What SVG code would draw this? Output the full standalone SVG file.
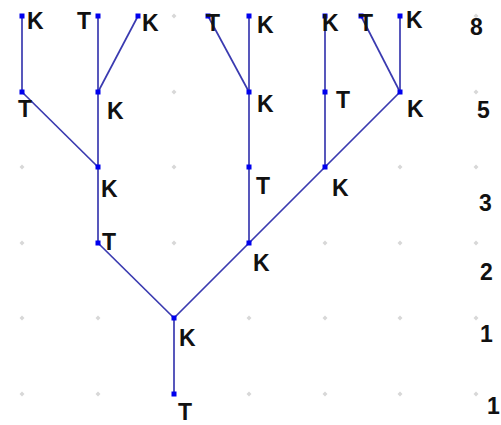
<svg xmlns="http://www.w3.org/2000/svg" width="501" height="425" viewBox="0 0 501 425">
<defs>
<style>
.grid{fill:#d8d8d8}
.edge{stroke:#3a3ab0;stroke-width:1.7;fill:none}
.dot{fill:#0000ee}
text{font-family:"Liberation Sans",Arial,sans-serif;font-weight:bold;font-size:23px;fill:#111}
</style>
<path id="g" d="M0,-2.5 L2.5,0 L0,2.5 L-2.5,0 Z"/>
</defs>
<rect width="501" height="425" fill="#fff"/>
<g id="grid" class="grid">
<use href="#g" x="22" y="16"/><use href="#g" x="98" y="16"/><use href="#g" x="174" y="16"/><use href="#g" x="249" y="16"/><use href="#g" x="325" y="16"/><use href="#g" x="400" y="16"/><use href="#g" x="476" y="16"/>
<use href="#g" x="22" y="92"/><use href="#g" x="98" y="92"/><use href="#g" x="174" y="92"/><use href="#g" x="249" y="92"/><use href="#g" x="325" y="92"/><use href="#g" x="400" y="92"/><use href="#g" x="476" y="92"/>
<use href="#g" x="22" y="167"/><use href="#g" x="98" y="167"/><use href="#g" x="174" y="167"/><use href="#g" x="249" y="167"/><use href="#g" x="325" y="167"/><use href="#g" x="400" y="167"/><use href="#g" x="476" y="167"/>
<use href="#g" x="22" y="243"/><use href="#g" x="98" y="243"/><use href="#g" x="174" y="243"/><use href="#g" x="249" y="243"/><use href="#g" x="325" y="243"/><use href="#g" x="400" y="243"/><use href="#g" x="476" y="243"/>
<use href="#g" x="22" y="318"/><use href="#g" x="98" y="318"/><use href="#g" x="174" y="318"/><use href="#g" x="249" y="318"/><use href="#g" x="325" y="318"/><use href="#g" x="400" y="318"/><use href="#g" x="476" y="318"/>
<use href="#g" x="22" y="394"/><use href="#g" x="98" y="394"/><use href="#g" x="174" y="394"/><use href="#g" x="249" y="394"/><use href="#g" x="325" y="394"/><use href="#g" x="400" y="394"/><use href="#g" x="476" y="394"/>
</g>
<g id="connectors" class="edge">
<line x1="174" y1="394" x2="174" y2="318"/>
<line x1="174" y1="318" x2="98" y2="243"/>
<line x1="174" y1="318" x2="249" y2="243"/>
<line x1="98" y1="243" x2="98" y2="167"/>
<line x1="249" y1="243" x2="249" y2="167"/>
<line x1="249" y1="243" x2="325" y2="167"/>
<line x1="98" y1="167" x2="22" y2="92"/>
<line x1="98" y1="167" x2="98" y2="92"/>
<line x1="249" y1="167" x2="249" y2="92"/>
<line x1="325" y1="167" x2="325" y2="92"/>
<line x1="325" y1="167" x2="400" y2="92"/>
<line x1="22" y1="92" x2="22" y2="16"/>
<line x1="98" y1="92" x2="98" y2="16"/>
<line x1="98" y1="92" x2="138" y2="16"/>
<line x1="249" y1="92" x2="208" y2="16"/>
<line x1="249" y1="92" x2="249" y2="16"/>
<line x1="325" y1="92" x2="325" y2="16"/>
<line x1="400" y1="92" x2="361" y2="16"/>
<line x1="400" y1="92" x2="400" y2="16"/>
</g>
<g id="n0"><rect class="dot" x="171.5" y="391.5" width="5" height="5"/><text x="178" y="420">T</text></g>
<g id="n1"><rect class="dot" x="171.5" y="315.5" width="5" height="5"/><text x="179" y="346">K</text></g>
<g id="n2"><rect class="dot" x="95.5" y="240.5" width="5" height="5"/><text x="102" y="250">T</text></g>
<g id="n3"><rect class="dot" x="246.5" y="240.5" width="5" height="5"/><text x="253" y="271">K</text></g>
<g id="n4"><rect class="dot" x="95.5" y="164.5" width="5" height="5"/><text x="101" y="197">K</text></g>
<g id="n5"><rect class="dot" x="246.5" y="164.5" width="5" height="5"/><text x="256" y="194">T</text></g>
<g id="n6"><rect class="dot" x="322.5" y="164.5" width="5" height="5"/><text x="332" y="196">K</text></g>
<g id="n7"><rect class="dot" x="19.5" y="89.5" width="5" height="5"/><text x="18" y="117">T</text></g>
<g id="n8"><rect class="dot" x="95.5" y="89.5" width="5" height="5"/><text x="107" y="119">K</text></g>
<g id="n9"><rect class="dot" x="246.5" y="89.5" width="5" height="5"/><text x="257" y="112">K</text></g>
<g id="n10"><rect class="dot" x="322.5" y="89.5" width="5" height="5"/><text x="336" y="108">T</text></g>
<g id="n11"><rect class="dot" x="397.5" y="89.5" width="5" height="5"/><text x="407" y="117">K</text></g>
<g id="n12"><rect class="dot" x="19.5" y="13.5" width="5" height="5"/><text x="27" y="29">K</text></g>
<g id="n13"><rect class="dot" x="95.5" y="13.5" width="5" height="5"/><text x="77" y="29">T</text></g>
<g id="n14"><rect class="dot" x="135.5" y="13.5" width="5" height="5"/><text x="142" y="31">K</text></g>
<g id="n15"><rect class="dot" x="205.5" y="13.5" width="5" height="5"/><text x="206" y="31">T</text></g>
<g id="n16"><rect class="dot" x="246.5" y="13.5" width="5" height="5"/><text x="257" y="33">K</text></g>
<g id="n17"><rect class="dot" x="322.5" y="13.5" width="5" height="5"/><text x="322" y="31">K</text></g>
<g id="n18"><rect class="dot" x="358.5" y="13.5" width="5" height="5"/><text x="359" y="31">T</text></g>
<g id="n19"><rect class="dot" x="397.5" y="13.5" width="5" height="5"/><text x="406" y="28">K</text></g>
<g id="levels">
<text x="470" y="35">8</text>
<text x="477" y="118">5</text>
<text x="479" y="211">3</text>
<text x="480" y="280">2</text>
<text x="480" y="342">1</text>
<text x="487" y="414">1</text>
</g>
</svg>
